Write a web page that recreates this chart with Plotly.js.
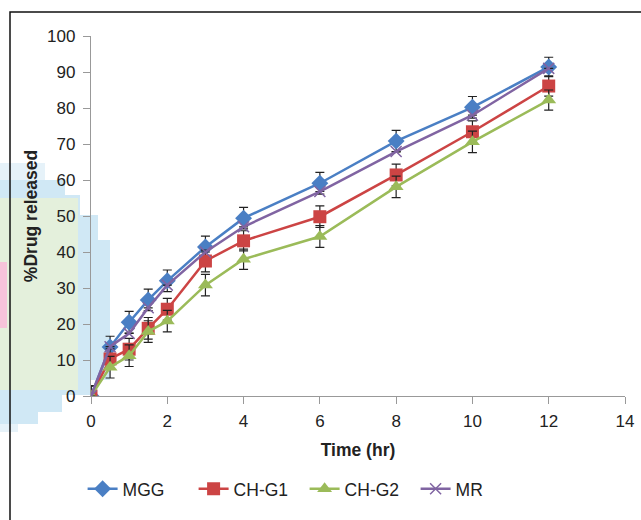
<!DOCTYPE html>
<html>
<head>
<meta charset="utf-8">
<script src="https://cdn.plot.ly/plotly-3.0.1.min.js"></script>
<style>html,body{margin:0;padding:0;background:#fff;}#chart{width:641px;height:520px;}</style>
</head>
<body>
<div id="chart"></div>
<script>
const time = [0, 0.5, 1, 1.5, 2, 3, 4, 6, 8, 10, 12];
const mgg  = [0, 13.6, 20.5, 26.7, 32.0, 41.4, 49.4, 59.1, 70.8, 80.2, 91.4];
const chg1 = [0, 10.3, 13.0, 18.8, 24.1, 37.5, 43.1, 49.8, 61.4, 73.4, 86.1];
const chg2 = [0, 8.0, 11.2, 17.9, 20.8, 30.8, 38.0, 44.3, 58.1, 70.6, 82.2];
const mr   = [0, 13.7, 17.4, 24.5, 30.8, 40.0, 47.0, 56.8, 67.9, 78.0, 91.0];
const mggErr  = [2.8, 3.0, 3.0, 3.0, 3.0, 3.0, 3.0, 3.0, 3.0, 3.0, 2.7];
const chg1Err = [2.8, 2.8, 3.0, 3.0, 3.0, 3.0, 2.8, 3.0, 3.0, 3.0, 2.8];
const chg2Err = [2.8, 3.0, 3.0, 3.0, 3.0, 3.0, 2.8, 3.0, 3.0, 3.0, 2.8];
const mrErr   = [0, 0, 0, 0, 0, 0, 0, 0, 0, 0, 0];
const names = ['MGG', 'CH-G1', 'CH-G2', 'MR'];
const colors = ['#4a7fc4', '#cc4444', '#9bbb59', '#8064a2'];
const symbols = ['diamond', 'square', 'triangle-up', 'x-thin-open'];
const series = [mgg, chg1, chg2, mr];
const errs = [mggErr, chg1Err, chg2Err, mrErr];
const sizes = [13, 13, 13, 11];

const traces = series.map((ys, i) => ({
  x: time, y: ys, name: names[i], type: 'scatter', mode: 'lines+markers',
  line: {color: colors[i], width: 2.5},
  marker: {symbol: symbols[i], size: sizes[i], color: colors[i],
           line: {color: colors[i], width: i === 3 ? 1.5 : 0}},
  error_y: {type: 'data', array: errs[i], visible: true, color: '#222', thickness: 1.2, width: 4.5}
}));

// pixel -> paper helpers for decorative background patches (scan artefacts)
const L = 91, T = 36, PW = 534, PH = 360;
const px = v => (v - L) / PW;
const py = v => (T + PH - v) / PH;
function patch(x0, y0, x1, y1, c) {
  return {type: 'rect', xref: 'paper', yref: 'paper', x0: px(x0), x1: px(x1), y0: py(y1), y1: py(y0),
          line: {width: 0}, fillcolor: c, layer: 'below'};
}
const blue = '#d0e8f5', blueL = '#e6f2f9', green = '#e4f0dc', pink = '#f6c3da';
const patches = [
  patch(0, 163, 45, 180, blueL),
  patch(0, 180, 65, 195, blue),
  patch(0, 195, 80, 215, blue),
  patch(0, 215, 98, 240, blue),
  patch(0, 240, 110, 380, blue),
  patch(0, 380, 90, 395, blue),
  patch(0, 395, 62, 412, blue),
  patch(0, 412, 38, 424, blue),
  patch(0, 424, 18, 432, blueL),
  patch(0, 198, 78, 390, green),
  patch(0, 262, 7, 328, pink)
];

const layout = {
  width: 641, height: 520,
  margin: {l: 91, r: 16, t: 36, b: 124},
  paper_bgcolor: '#fff', plot_bgcolor: 'rgba(0,0,0,0)',
  font: {family: 'Liberation Sans, Arial, sans-serif', size: 17, color: '#222'},
  showlegend: true,
  legend: {orientation: 'h', x: 0.40, xanchor: 'center', y: -0.258, yanchor: 'middle',
           font: {size: 17.5, color: '#222'}, tracegroupgap: 0, entrywidth: 66, entrywidthmode: 'pixels'},
  xaxis: {range: [0, 14], tickvals: [0, 2, 4, 6, 8, 10, 12, 14], showgrid: false, zeroline: false,
          showline: true, linecolor: '#999', linewidth: 1.2, ticks: 'outside', ticklen: 7, tickcolor: '#999',
          tickfont: {size: 17}, ticklabelstandoff: 2, title: {text: '<b>Time (hr)</b>', font: {size: 17.5}, standoff: 14}},
  yaxis: {range: [0, 100], tickvals: [0, 10, 20, 30, 40, 50, 60, 70, 80, 90, 100], showgrid: false, zeroline: false,
          showline: true, linecolor: '#999', linewidth: 1.2, ticks: 'outside', ticklen: 7, tickcolor: '#999',
          tickfont: {size: 17}, ticklabelstandoff: 4, title: {text: '<b>%Drug released</b>', font: {size: 17.5}, standoff: 5}},
  shapes: patches.concat([{type: 'rect', xref: 'paper', yref: 'paper', x0: px(10), x1: 1.05, y0: -0.36, y1: py(12),
            line: {color: '#111', width: 1.5}, fillcolor: 'rgba(0,0,0,0)', layer: 'below'}])
};
Plotly.newPlot('chart', traces, layout, {displayModeBar: false, staticPlot: true});
</script>
</body>
</html>
